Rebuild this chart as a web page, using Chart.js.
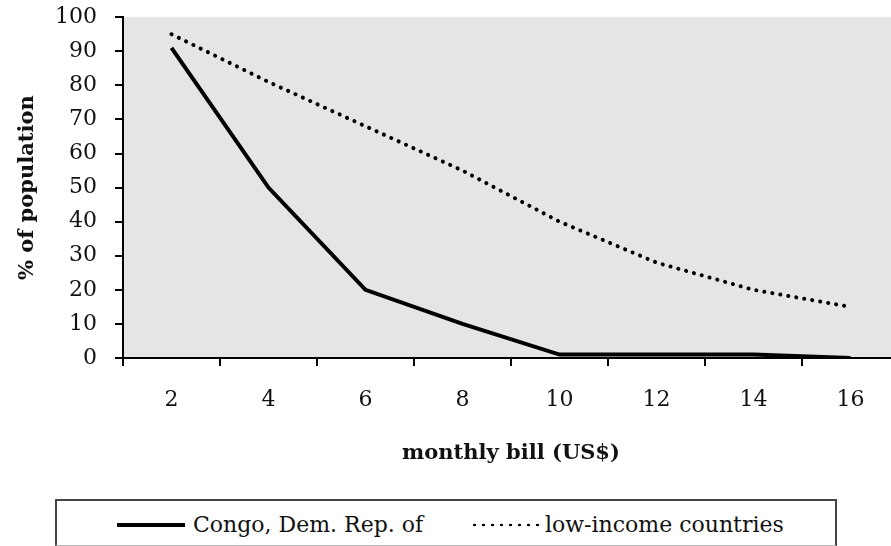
<!DOCTYPE html>
<html>
<head>
<meta charset="utf-8">
<script src="https://cdn.jsdelivr.net/npm/chart.js@4"></script>
<style>
  html, body { margin: 0; padding: 0; background: #fff; overflow: hidden; }
  #wrap { position: relative; width: 891px; height: 546px; overflow: hidden; }
  #box { position: absolute; left: 0; top: -14px; width: 899px; height: 494px; }
  #legend {
    position: absolute; left: 55px; top: 499px; width: 778px; height: 44px;
    border: 2px solid #444; border-bottom: 1px solid #bbb;
    font-family: "DejaVu Serif", serif; font-size: 22px; color: #111;
  }
  #legend .sample { position: absolute; top: 24px; }
  #legend .solid { left: 60px; width: 68px; height: 4px; margin-top: -2px; background: #000; }
  #legend .dots {
    left: 413px; width: 75px; height: 4px; margin-top: -2px;
    background-image: radial-gradient(circle, #000 1.1px, transparent 1.6px);
    background-size: 9px 4px;
  }
  #legend .txt { position: absolute; top: 9px; line-height: 30px; white-space: nowrap; }
</style>
</head>
<body>
<div id="wrap">
  <div id="box"><canvas id="chart"></canvas></div>
  <div id="legend">
    <span class="sample solid"></span><span class="txt" style="left:136px">Congo, Dem. Rep. of</span>
    <span class="sample dots"></span><span class="txt" style="left:488px">low-income countries</span>
  </div>
</div>
<script>
// data
const categories = ["2", "4", "6", "8", "10", "12", "14", "16"];
const congo = [91, 50, 20, 10, 1, 1, 1, 0];
const lowIncome = [95, 81, 68, 55, 40, 28, 20, 15];
const yMin = 0, yMax = 100, yStep = 10;

const serif = "'DejaVu Serif', serif";

// grey plot area
const plotBg = {
  id: "plotBg",
  beforeDraw(chart) {
    const { ctx, chartArea: a } = chart;
    ctx.save();
    ctx.fillStyle = "#e5e5e5";
    ctx.fillRect(a.left, a.top, a.right - a.left, a.bottom - a.top);
    ctx.restore();
  },
};

new Chart(document.getElementById("chart"), {
  type: "line",
  data: {
    labels: categories,
    datasets: [
      {
        label: "Congo, Dem. Rep. of",
        data: congo,
        borderColor: "#000",
        borderWidth: 4,
        pointRadius: 0,
        tension: 0,
      },
      {
        label: "low-income countries",
        data: lowIncome,
        borderColor: "#000",
        borderWidth: 4,
        borderDash: [0.1, 8],
        borderCapStyle: "round",
        pointRadius: 0,
        tension: 0,
      },
    ],
  },
  options: {
    responsive: true,
    maintainAspectRatio: false,
    animation: false,
    layout: { padding: { top: 1, left: 0, right: 0, bottom: 0 } },
    plugins: { legend: { display: false }, tooltip: { enabled: false } },
    scales: {
      x: {
        offset: true,
        grid: {
          offset: true,
          drawOnChartArea: false,
          drawTicks: true,
          tickLength: 8,
          color: "#000",
          lineWidth: 2,
        },
        border: { color: "#000", width: 2 },
        ticks: { color: "#111", padding: 21, maxRotation: 0, font: { family: serif, size: 22 } },
        title: {
          display: true,
          text: "monthly bill (US$)",
          color: "#111",
          padding: { top: 4, bottom: 14 },
          font: { family: serif, size: 21, weight: "bold" },
        },
        afterFit: (scale) => { scale.height = 122; },
      },
      y: {
        min: yMin,
        max: yMax,
        grid: {
          drawOnChartArea: false,
          drawTicks: true,
          tickLength: 8,
          color: "#000",
          lineWidth: 2,
        },
        border: { color: "#000", width: 2 },
        ticks: {
          stepSize: yStep,
          autoSkip: false,
          color: "#111",
          padding: 18,
          font: { family: serif, size: 22 },
        },
        title: {
          display: true,
          text: "% of population",
          color: "#111",
          padding: { top: 15, bottom: 4 },
          font: { family: serif, size: 21, weight: "bold" },
        },
        afterFit: (scale) => { scale.width = 123; },
      },
    },
  },
  plugins: [plotBg],
});
</script>
</body>
</html>
